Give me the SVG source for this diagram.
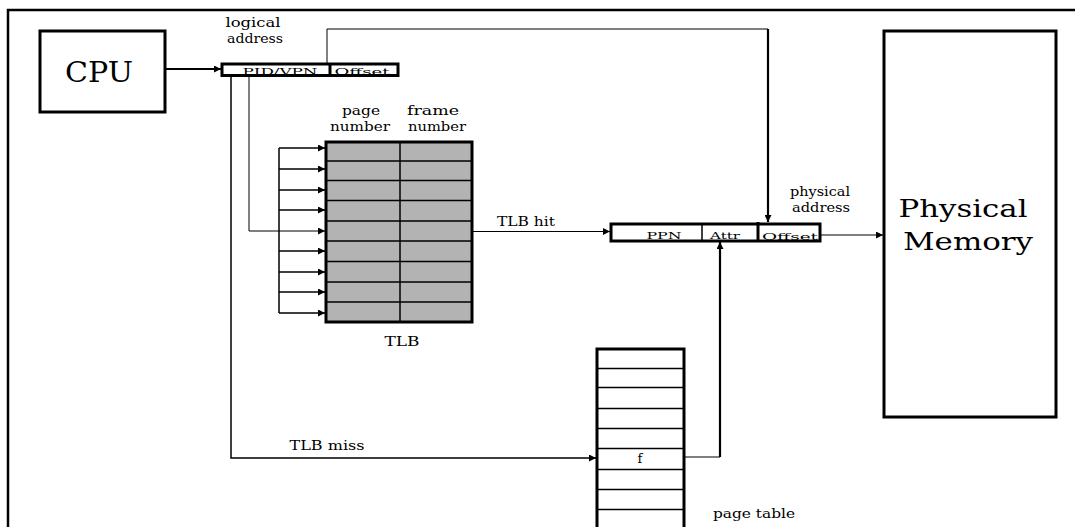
<svg xmlns="http://www.w3.org/2000/svg" width="1079" height="527" viewBox="0 0 1079 527">
<defs>
<marker id="ah" viewBox="0 0 10 10" refX="10" refY="5" markerWidth="9" markerHeight="7" markerUnits="userSpaceOnUse" orient="auto">
<path d="M0,0 L10,5 L0,10 z" fill="#000"/>
</marker>
</defs>
<style>
.box{fill:#fff;stroke:#000;stroke-width:3}
.thin{fill:none;stroke:#000;stroke-width:1}
.med{fill:none;stroke:#000;stroke-width:1.5}
.thick{fill:none;stroke:#000;stroke-width:2.2}
text{font-family:'DejaVu Serif','Liberation Serif',serif;fill:#000;text-anchor:middle}
.t{font-size:12px}
.s{font-size:10px}
</style>
<rect width="1079" height="527" fill="#fff"/>
<g id="frame">
<path d="M8,527 V10 H1075" fill="none" stroke="#000" stroke-width="2.5"/>
</g>
<g id="cpu">
<rect class="box" x="40" y="31" width="125" height="81"/>
<text x="99" y="82" font-size="27" textLength="68" lengthAdjust="spacingAndGlyphs">CPU</text>
</g>
<g id="logical-address">
<text class="t" x="253" y="27" textLength="55" lengthAdjust="spacingAndGlyphs">logical</text>
<text class="t" x="255" y="43" textLength="56" lengthAdjust="spacingAndGlyphs">address</text>
<rect class="box" x="222" y="64" width="176" height="11.5"/>
<line x1="330" y1="63" x2="330" y2="77" stroke="#000" stroke-width="3"/>
<text class="s" x="280" y="74.5" textLength="75" lengthAdjust="spacingAndGlyphs">PID/VPN</text>
<text class="s" x="362" y="74.5" textLength="55" lengthAdjust="spacingAndGlyphs">Offset</text>
</g>
<g id="tlb">
<text class="t" x="361" y="115" textLength="38" lengthAdjust="spacingAndGlyphs">page</text>
<text class="t" x="360" y="131" textLength="60" lengthAdjust="spacingAndGlyphs">number</text>
<text class="t" x="433" y="115" textLength="52" lengthAdjust="spacingAndGlyphs">frame</text>
<text class="t" x="437" y="131" textLength="58" lengthAdjust="spacingAndGlyphs">number</text>
<rect x="326" y="142" width="146" height="180" fill="#b3b3b3" stroke="#000" stroke-width="3"/>
<path class="med" d="M326,161 H472 M326,180.5 H472 M326,200.5 H472 M326,221 H472 M326,241 H472 M326,261.5 H472 M326,282 H472 M326,302 H472 M400,142 V322"/>
<text class="t" x="402" y="346" textLength="35" lengthAdjust="spacingAndGlyphs">TLB</text>
</g>
<g id="physical-address">
<text class="t" x="820" y="196" textLength="60" lengthAdjust="spacingAndGlyphs">physical</text>
<text class="t" x="821" y="212" textLength="58" lengthAdjust="spacingAndGlyphs">address</text>
<rect class="box" x="611" y="224" width="209" height="17"/>
<line x1="702" y1="224" x2="702" y2="241" stroke="#000" stroke-width="1.5"/>
<line x1="758" y1="222" x2="758" y2="242" stroke="#000" stroke-width="3"/>
<text class="s" x="664" y="238.5" textLength="35" lengthAdjust="spacingAndGlyphs">PPN</text>
<text class="s" x="725" y="238.5" textLength="30" lengthAdjust="spacingAndGlyphs">Attr</text>
<text class="s" x="790" y="240" textLength="56" lengthAdjust="spacingAndGlyphs">Offset</text>
</g>
<g id="physical-memory">
<rect class="box" x="884" y="31" width="172" height="386"/>
<text x="963" y="217" font-size="25" textLength="129" lengthAdjust="spacingAndGlyphs">Physical</text>
<text x="968" y="250" font-size="25" textLength="130" lengthAdjust="spacingAndGlyphs">Memory</text>
</g>
<g id="page-table">
<path d="M597,527 V349 H684 V527" fill="#fff" stroke="#000" stroke-width="3"/>
<path class="med" d="M597,368.5 H684 M597,387.5 H684 M597,408.5 H684 M597,428.5 H684 M597,448.5 H684 M597,469.5 H684 M597,489.5 H684 M597,509.5 H684"/>
<text x="640" y="463" font-size="13">f</text>
<text class="t" x="754" y="518" textLength="82" lengthAdjust="spacingAndGlyphs">page table</text>
</g>
<g id="connectors">
<path class="thick" d="M165,69 H221" marker-end="url(#ah)"/>
<path class="thin" d="M327,64 V29 H768"/>
<path class="thick" d="M768,29 V222" marker-end="url(#ah)"/>
<path class="thin" d="M249,75 V231 H325" marker-end="url(#ah)"/>
<path class="med" d="M279,148 V313"/>
<path class="med" d="M279,148 H325" marker-end="url(#ah)"/>
<path class="med" d="M279,169 H325" marker-end="url(#ah)"/>
<path class="med" d="M279,190 H325" marker-end="url(#ah)"/>
<path class="med" d="M279,210 H325" marker-end="url(#ah)"/>
<path class="med" d="M279,251 H325" marker-end="url(#ah)"/>
<path class="med" d="M279,272 H325" marker-end="url(#ah)"/>
<path class="med" d="M279,292 H325" marker-end="url(#ah)"/>
<path class="med" d="M279,313 H325" marker-end="url(#ah)"/>
<path class="med" d="M231,75 V458 H596" marker-end="url(#ah)"/>
<text class="t" x="327" y="450" textLength="75" lengthAdjust="spacingAndGlyphs">TLB miss</text>
<path class="thin" d="M472,231.5 H610" marker-end="url(#ah)"/>
<text class="t" x="526" y="226" textLength="58" lengthAdjust="spacingAndGlyphs">TLB hit</text>
<path class="thin" d="M684,457 H720"/>
<path class="thick" d="M720,457 V242" marker-end="url(#ah)"/>
<path class="thin" d="M820,235 H883" marker-end="url(#ah)"/>
</g>
</svg>
